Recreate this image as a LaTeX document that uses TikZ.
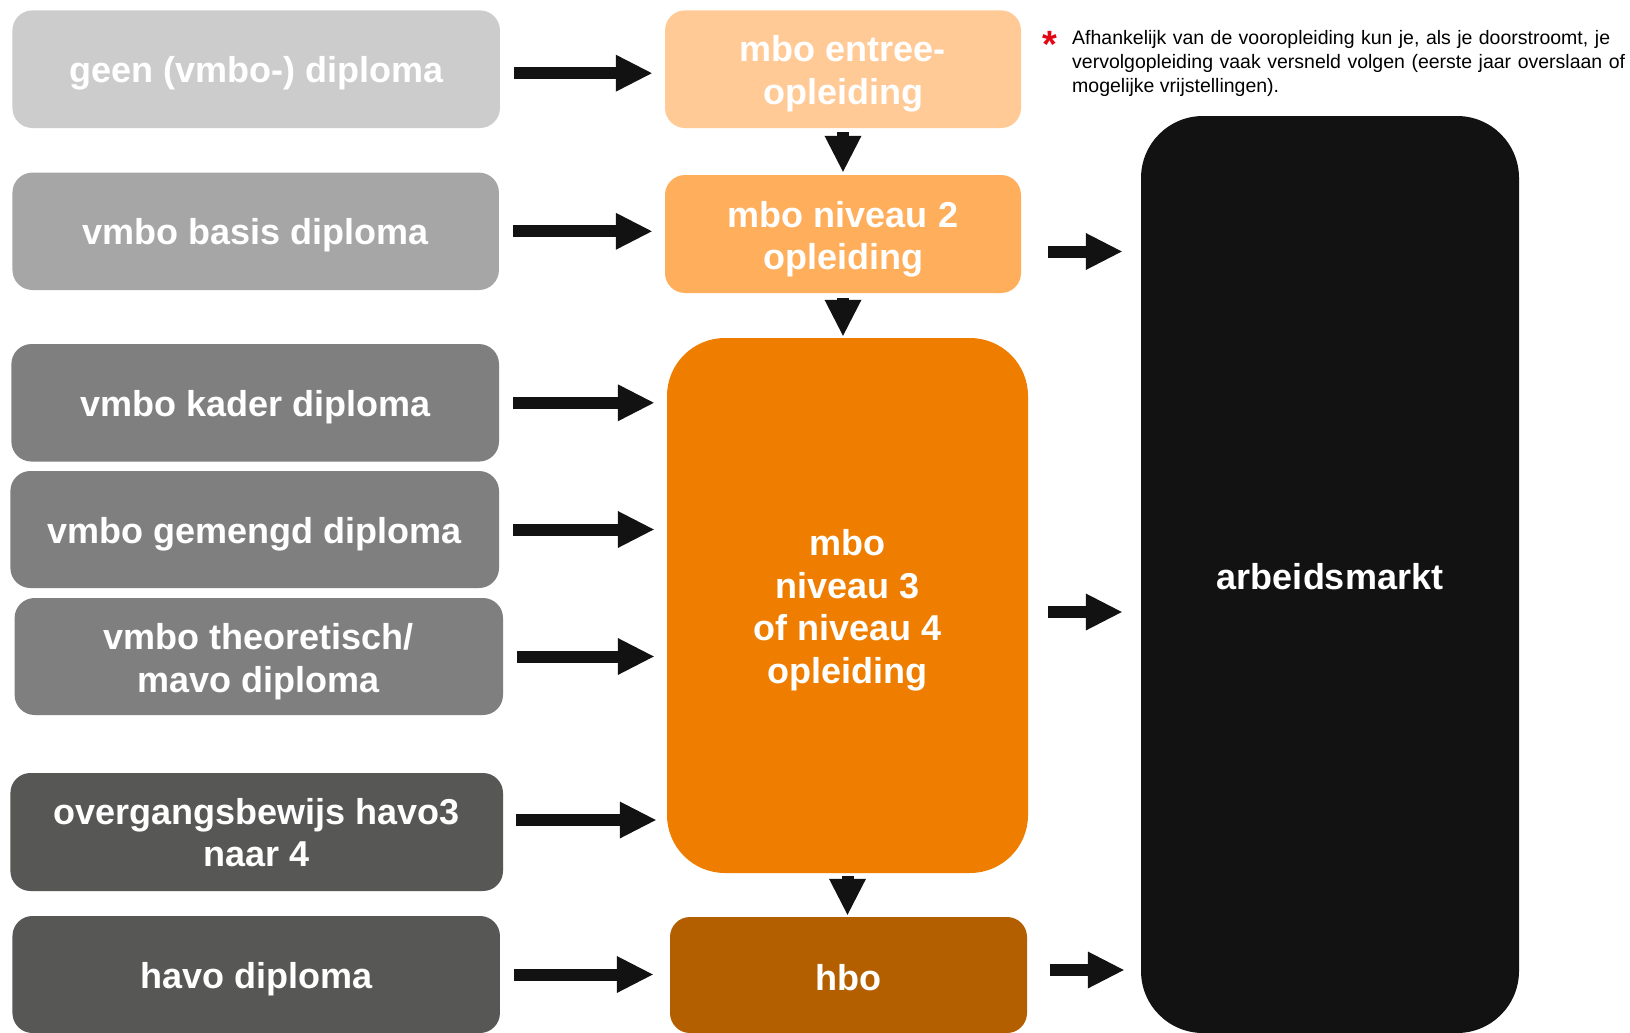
\documentclass[tikz,border=0pt]{standalone}
\usepackage{fontspec}
\setmainfont{Liberation Sans}
\usetikzlibrary{arrows.meta}
\definecolor{cgeen}{HTML}{CCCCCC}
\definecolor{cbasis}{HTML}{A6A6A6}
\definecolor{cmid}{HTML}{7F7F7F}
\definecolor{cdark}{HTML}{575756}
\definecolor{centree}{HTML}{FFCA96}
\definecolor{cniv2}{HTML}{FFAE5C}
\definecolor{cniv34}{HTML}{EE7D00}
\definecolor{chbo}{HTML}{B35F00}
\definecolor{cblack}{HTML}{121212}
\definecolor{cred}{HTML}{E30613}
% text lowered by #1 inside its box, without changing the box size
\newcommand\boxlbl[2]{\raisebox{-#1}[\height][\depth]{\begin{tabular}{@{}c@{}}#2\end{tabular}}}
\begin{document}
\begin{tikzpicture}[x=1pt,y=-1pt,
  box/.style={rectangle, rounded corners=20pt, inner sep=0pt, text=white,
    font=\fontsize{36}{42.6}\selectfont\bfseries},
  arrowbase/.style={draw=cblack, line width=12pt,
    -{Triangle[length=36pt,width=37pt,line width=0pt]}},
  harr/.style={arrowbase, shorten <=14pt, shorten >=13pt},
  rarr/.style={arrowbase, shorten <=#1, shorten >=19pt},
  darr/.style={arrowbase, shorten <=4pt, shorten >=3pt},
  note/.style={inner sep=0pt, align=left, font=\fontsize{19.5}{24}\selectfont},
]
\fill[white] (0,0) rectangle (1630,1033);
\useasboundingbox (0,0) rectangle (1630,1033);

% left column
\node[box, fill=cgeen, minimum width=487.5pt, minimum height=117.6pt] (geen) at (256.2,69.2) {\boxlbl{5pt}{geen (vmbo-) diploma}};
\node[box, fill=cbasis, minimum width=486.5pt, minimum height=117.4pt] (basis) at (255.7,231.3) {\boxlbl{5pt}{vmbo basis diploma}};
\node[box, fill=cmid, minimum width=487.6pt, minimum height=117.5pt] (kader) at (255.2,402.8) {\boxlbl{5pt}{vmbo kader diploma}};
\node[box, fill=cmid, minimum width=488.6pt, minimum height=117pt] (gemengd) at (254.7,529.5) {\boxlbl{5.5pt}{vmbo gemengd diploma}};
\node[box, fill=cmid, minimum width=488.4pt, minimum height=117pt] (theor) at (258.8,656.5) {\boxlbl{6pt}{vmbo theoretisch/\\mavo diploma}};
\node[box, fill=cdark, minimum width=492.6pt, minimum height=118pt] (ovg) at (256.7,832) {\boxlbl{5pt}{overgangsbewijs havo3\\naar 4}};
\node[box, fill=cdark, minimum width=487.5pt, minimum height=117pt] (havo) at (256.2,974.5) {\boxlbl{5pt}{havo diploma}};

% middle column
\node[box, fill=centree, minimum width=356pt, minimum height=117.6pt] (entree) at (843,69.2) {\boxlbl{5pt}{mbo entree-\\opleiding}};
\node[box, fill=cniv2, minimum width=356pt, minimum height=118pt] (niv2) at (843,234) {\boxlbl{6pt}{mbo niveau 2\\opleiding}};
\node[box, fill=cniv34, rounded corners=58pt, minimum width=361pt, minimum height=535pt] (niv34) at (847.5,605.5) {\boxlbl{5.5pt}{mbo\\niveau 3\\of niveau 4\\opleiding}};
\node[box, fill=chbo, minimum width=357pt, minimum height=116pt] (hbo) at (848.5,975) {\boxlbl{7pt}{hbo}};

% right
\node[box, fill=cblack, rounded corners=62pt, minimum width=378pt, minimum height=917pt] (arb) at (1330,574.5) {\boxlbl{6pt}{arbeidsmarkt}};

% note
\node[inner sep=0pt, anchor=base, text=cred, font=\fontsize{38}{38}\selectfont\bfseries] (ast) at (1050,58) {*};
\node[note, anchor=north west] (note) at (1072,29.8) {\hbox to 538pt{Afhankelijk van de vooropleiding kun je, als je doorstroomt, je}\\
  \hbox to 553pt{vervolgopleiding vaak versneld volgen (eerste jaar overslaan of}\\
  mogelijke vrijstellingen).};

% horizontal arrows into middle column
\draw[harr] ([yshift=-4pt]geen.east) -- ([yshift=-4pt]geen.east -| entree.west);
\draw[harr] (basis.east) -- (basis.east -| niv2.west);
\draw[harr] (kader.east) -- (kader.east -| niv34.west);
\draw[harr] (gemengd.east) -- (gemengd.east -| niv34.west);
\draw[harr] (theor.east) -- (theor.east -| niv34.west);
\draw[harr, shorten <=13pt, shorten >=11pt] ([yshift=12pt]ovg.east) -- ([yshift=12pt]ovg.east -| niv34.west);
\draw[harr, shorten >=17pt] (havo.east) -- (havo.east -| hbo.west);

% vertical arrows
\draw[darr] (entree.south) -- (entree.south |- niv2.north);
\draw[darr, shorten <=5pt, shorten >=2pt] (niv2.south) -- (niv2.south |- niv34.north);
\draw[darr, shorten <=3pt, shorten >=2pt] (niv34.south) -- (niv34.south |- hbo.north);

% arrows to arbeidsmarkt
\draw[rarr=27pt] ([yshift=-17.5pt]niv2.east) -- ([yshift=-17.5pt]niv2.east -| arb.west);
\draw[rarr=20pt] ([yshift=-6.5pt]niv34.east) -- ([yshift=-6.5pt]niv34.east -| arb.west);
\draw[rarr=23pt, shorten >=17pt] ([yshift=5pt]hbo.east) -- ([yshift=5pt]hbo.east -| arb.west);
\end{tikzpicture}
\end{document}
